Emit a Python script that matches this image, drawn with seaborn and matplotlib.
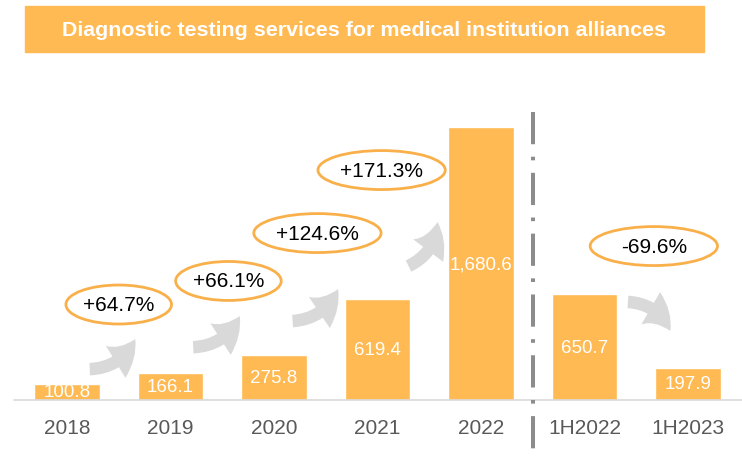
import matplotlib.pyplot as plt
import seaborn as sns
from matplotlib.patches import Ellipse, FancyArrowPatch, Rectangle

periods = ["2018", "2019", "2020", "2021", "2022", "1H2022", "1H2023"]
revenue = [100.8, 166.1, 275.8, 619.4, 1680.6, 650.7, 197.9]
growth_labels = ["+64.7%", "+66.1%", "+124.6%", "+171.3%", "-69.6%"]
title = "Diagnostic testing services for medical institution alliances"

ORANGE = "#FFBA53"

# layout of the growth callouts (data coords): ellipse centre and width
bubble_xy = [(0.50, 588), (1.56, 733), (2.42, 1028), (3.04, 1416), (5.67, 948)]
bubble_w = [1.02, 1.02, 1.23, 1.23, 1.23]
# curved arrows: tail -> head, bend
arrows = [
    ((0.22, 190), (0.66, 375), 0.3),
    ((1.22, 325), (1.67, 517), 0.3),
    ((2.18, 486), (2.62, 683), 0.3),
    ((3.30, 825), (3.58, 1096), 0.3),
    ((5.42, 604), (5.83, 425), -0.3),
]

sns.set_theme(style="white")
plt.rcParams["font.family"] = ["Liberation Sans", "DejaVu Sans"]

fig = plt.figure(figsize=(7.42, 4.6), dpi=100)
ax = fig.add_axes([0, 59 / 460, 1, 341 / 460])

sns.barplot(x=periods, y=revenue, color=ORANGE, saturation=1, width=0.63, ax=ax)
ax.set_xlim(-0.647, 6.522)
ax.set_ylim(0, 2100)
ax.set_yticks([])
ax.set_xlabel("")
ax.set_ylabel("")
for s in ax.spines.values():
    s.set_visible(False)
ax.tick_params(axis="x", length=0, labelsize=15, labelcolor="#595959", pad=13)

for i, v in enumerate(revenue):
    ax.text(i, v / 2, f"{v:,.1f}", ha="center", va="center", color="white", fontsize=13.5)

ax.axhline(0, xmin=14 / 742, xmax=1, color="#D9D9D9", lw=1.2, clip_on=False)

# separator between full years and half years
ax.plot([4.5, 4.5], [1775, -360], color="#8C8C8C", lw=2.9, clip_on=False,
        linestyle=(0, (8.0, 3.1, 0.9, 3.1)), solid_capstyle="butt")

for (tail, head, rad) in arrows:
    ax.add_patch(FancyArrowPatch(
        tail, head, connectionstyle=f"arc3,rad={rad}",
        arrowstyle="simple,head_length=1.2,head_width=1.5,tail_width=0.5",
        mutation_scale=18, color="#D9D9D9", shrinkA=0, shrinkB=0, lw=0))

for (xy, w, lab) in zip(bubble_xy, bubble_w, growth_labels):
    ax.add_patch(Ellipse(xy, w, 240, facecolor="white", edgecolor="#F9B04A", lw=2))
    ax.text(xy[0], xy[1], lab, ha="center", va="center", fontsize=15, color="black")

fig.patches.append(Rectangle((25 / 742, 407 / 460), 679 / 742, 46 / 460,
                             transform=fig.transFigure, color=ORANGE, zorder=0))
fig.text(364.5 / 742, 430 / 460, title, ha="center", va="center",
         color="white", fontsize=15.4, fontweight="bold")

fig.savefig("out.png", dpi=100)
